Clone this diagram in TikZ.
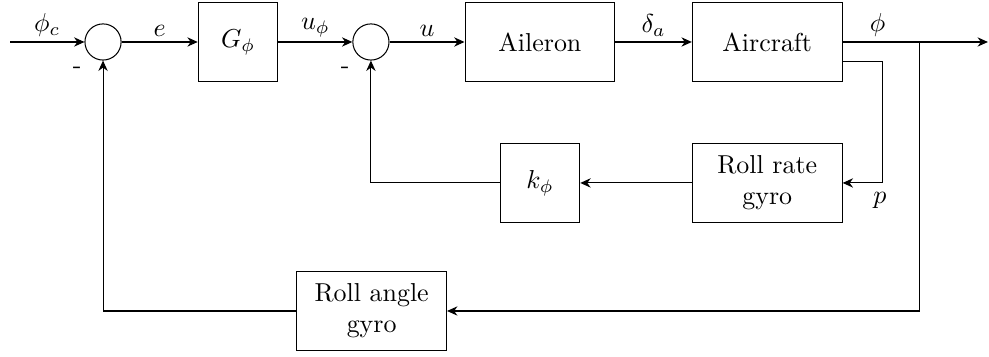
\documentclass[tikz,border=0pt]{standalone}
\usepackage{amsmath,amssymb}
\usetikzlibrary{arrows.meta, positioning, calc}

\begin{document}
\begin{tikzpicture}[>={Stealth[length=4pt, width=3.6pt]}, line width=0.4pt,
  block/.style={draw, minimum width=2.03cm, minimum height=1.08cm, align=center},
  gainbox/.style={draw, minimum width=1.08cm, minimum height=1.08cm},
  sumnode/.style={draw, circle, minimum size=0.49cm, inner sep=0pt},
  sig/.style={above, yshift=-1.5pt}]

% Frame of the page
\useasboundingbox (-1.396,0.569) rectangle (12.005,-4.255);

% Forward path
\coordinate (in) at (-1.26,0);
\node[sumnode] (sum1) at (0,0) {};
\node[gainbox] (G) at (1.83,0) {$G_\phi$};
\node[sumnode] (sum2) at (3.63,0) {};
\node[block] (ail) at (5.92,0) {Aileron};
\node[block] (ac) at (9.00,0) {Aircraft};
\coordinate (out) at (11.99,0);

% Minus signs at the summing junctions
\node (m1) at (-0.35,-0.38) {-};
\node (m2) at (3.28,-0.38) {-};

% Inner loop (roll rate)
\node[block] (rgyro) at (9.00,-1.91) {Roll rate\\gyro};
\node[gainbox] (kphi) at (5.92,-1.91) {$k_\phi$};
\coordinate (acp) at ($(ac.east)+(0,-0.27)$);
\coordinate (rtap) at (10.56,-0.27);

% Outer loop (roll angle)
\node[block] (agyro) at (3.64,-3.645) {Roll angle\\gyro};
\coordinate (tap) at (11.06,0);

% Signals
\draw[->] (in) -- node[sig] {$\phi_c$} (sum1);
\draw[->] (sum1) -- node[sig] {$e$} (G);
\draw[->] (G) -- node[sig] {$u_\phi$} (sum2);
\draw[->] (sum2) -- node[sig] {$u$} (ail);
\draw[->] (ail) -- node[sig] {$\delta_a$} (ac);
\draw[->] (ac) -- node[sig, pos=0.24] {$\phi$} (out);

% Feedback paths
\draw[->] (acp) -- (rtap) |- node[pos=0.5, below, xshift=-1pt] {$p$} (rgyro);
\draw[->] (rgyro) -- (kphi);
\draw[->] (kphi) -| (sum2);
\draw[->] (tap) |- (agyro);
\draw[->] (agyro) -| (sum1);

\end{tikzpicture}
\end{document}
